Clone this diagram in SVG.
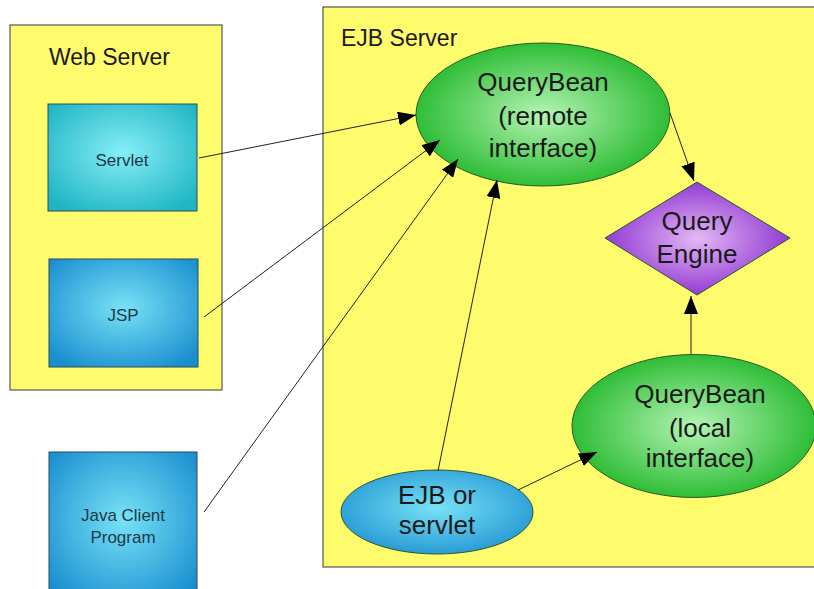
<svg xmlns="http://www.w3.org/2000/svg" width="814" height="589" viewBox="0 0 814 589">
<defs>
<radialGradient id="gTeal" cx="50%" cy="45%" r="65%">
<stop offset="0" stop-color="#86eef6"/><stop offset="1" stop-color="#1fb5c4"/>
</radialGradient>
<radialGradient id="gBlue" cx="50%" cy="45%" r="65%">
<stop offset="0" stop-color="#78e2f6"/><stop offset="1" stop-color="#1a8fd0"/>
</radialGradient>
<radialGradient id="gGreen" cx="50%" cy="50%" r="55%">
<stop offset="0" stop-color="#b4f4b4"/><stop offset="1" stop-color="#22b82a"/>
</radialGradient>
<radialGradient id="gPurple" cx="50%" cy="50%" r="55%">
<stop offset="0" stop-color="#e4b8f4"/><stop offset="1" stop-color="#8a2ed0"/>
</radialGradient>
<marker id="arr" viewBox="0 0 18 14" refX="18" refY="7" markerWidth="18" markerHeight="14" markerUnits="userSpaceOnUse" orient="auto">
<path d="M0,0 L18,7 L0,14 Z" fill="#000"/>
</marker>
<style>
.cont{fill:#fefb6c;stroke:#555;stroke-width:1.2}
.box{stroke:#2a4a5a;stroke-width:1}
.node{stroke:#2a5a2a;stroke-width:1}
.lbl{font-family:"Liberation Sans",Arial,sans-serif;fill:#1a1a1a;text-anchor:middle}
.big{font-size:26px}
.small{font-size:17px;fill:#1e3a48}
.title{font-family:"Liberation Sans",Arial,sans-serif;font-size:23px;fill:#1a1a1a}
.edge{stroke:#222;stroke-width:1;fill:none;marker-end:url(#arr)}
</style>
</defs>
<rect width="814" height="589" fill="#fff"/>
<g id="web-server">
<rect class="cont" x="10" y="25" width="212" height="365"/>
<text class="title" x="49" y="65">Web Server</text>
</g>
<g id="ejb-server">
<rect class="cont" x="323" y="7" width="500" height="560"/>
<text class="title" x="341" y="46">EJB Server</text>
</g>
<g id="servlet">
<rect class="box" x="48" y="104" width="149" height="107" fill="url(#gTeal)"/>
<text class="lbl small" x="122" y="166">Servlet</text>
</g>
<g id="jsp">
<rect class="box" x="49" y="259" width="149" height="108" fill="url(#gBlue)"/>
<text class="lbl small" x="123" y="321">JSP</text>
</g>
<g id="java-client">
<rect class="box" x="49" y="452" width="148" height="150" fill="url(#gBlue)"/>
<text class="lbl small" x="123" y="521">Java Client</text>
<text class="lbl small" x="123" y="543">Program</text>
</g>
<g id="querybean-remote">
<ellipse class="node" cx="543" cy="114.5" rx="127" ry="71.5" fill="url(#gGreen)"/>
<text class="lbl big" x="543" y="91">QueryBean</text>
<text class="lbl big" x="543" y="125">(remote</text>
<text class="lbl big" x="543" y="157">interface)</text>
</g>
<g id="query-engine">
<polygon class="node" points="697,182 790,238 697,295 605,238" fill="url(#gPurple)" stroke="#4a2a6a"/>
<text class="lbl big" x="697" y="230">Query</text>
<text class="lbl big" x="697" y="263">Engine</text>
</g>
<g id="querybean-local">
<ellipse class="node" cx="694" cy="426" rx="122" ry="71.5" fill="url(#gGreen)"/>
<text class="lbl big" x="700" y="403">QueryBean</text>
<text class="lbl big" x="700" y="437">(local</text>
<text class="lbl big" x="700" y="467">interface)</text>
</g>
<g id="ejb-or-servlet">
<ellipse class="node" cx="437" cy="512" rx="96" ry="42" fill="url(#gBlue)" stroke="#1a3a5a"/>
<text class="lbl big" x="437" y="504">EJB or</text>
<text class="lbl big" x="437" y="534">servlet</text>
</g>
<g id="connectors">
<line class="edge" x1="199" y1="158" x2="416" y2="115"/>
<line class="edge" x1="204" y1="317" x2="440" y2="140"/>
<line class="edge" x1="204" y1="512" x2="458" y2="159"/>
<line class="edge" x1="438" y1="471" x2="497" y2="180"/>
<line class="edge" x1="670" y1="113" x2="694" y2="181"/>
<line class="edge" x1="691" y1="355" x2="691" y2="296"/>
<line class="edge" x1="518" y1="490" x2="597" y2="452"/>
</g>
</svg>
